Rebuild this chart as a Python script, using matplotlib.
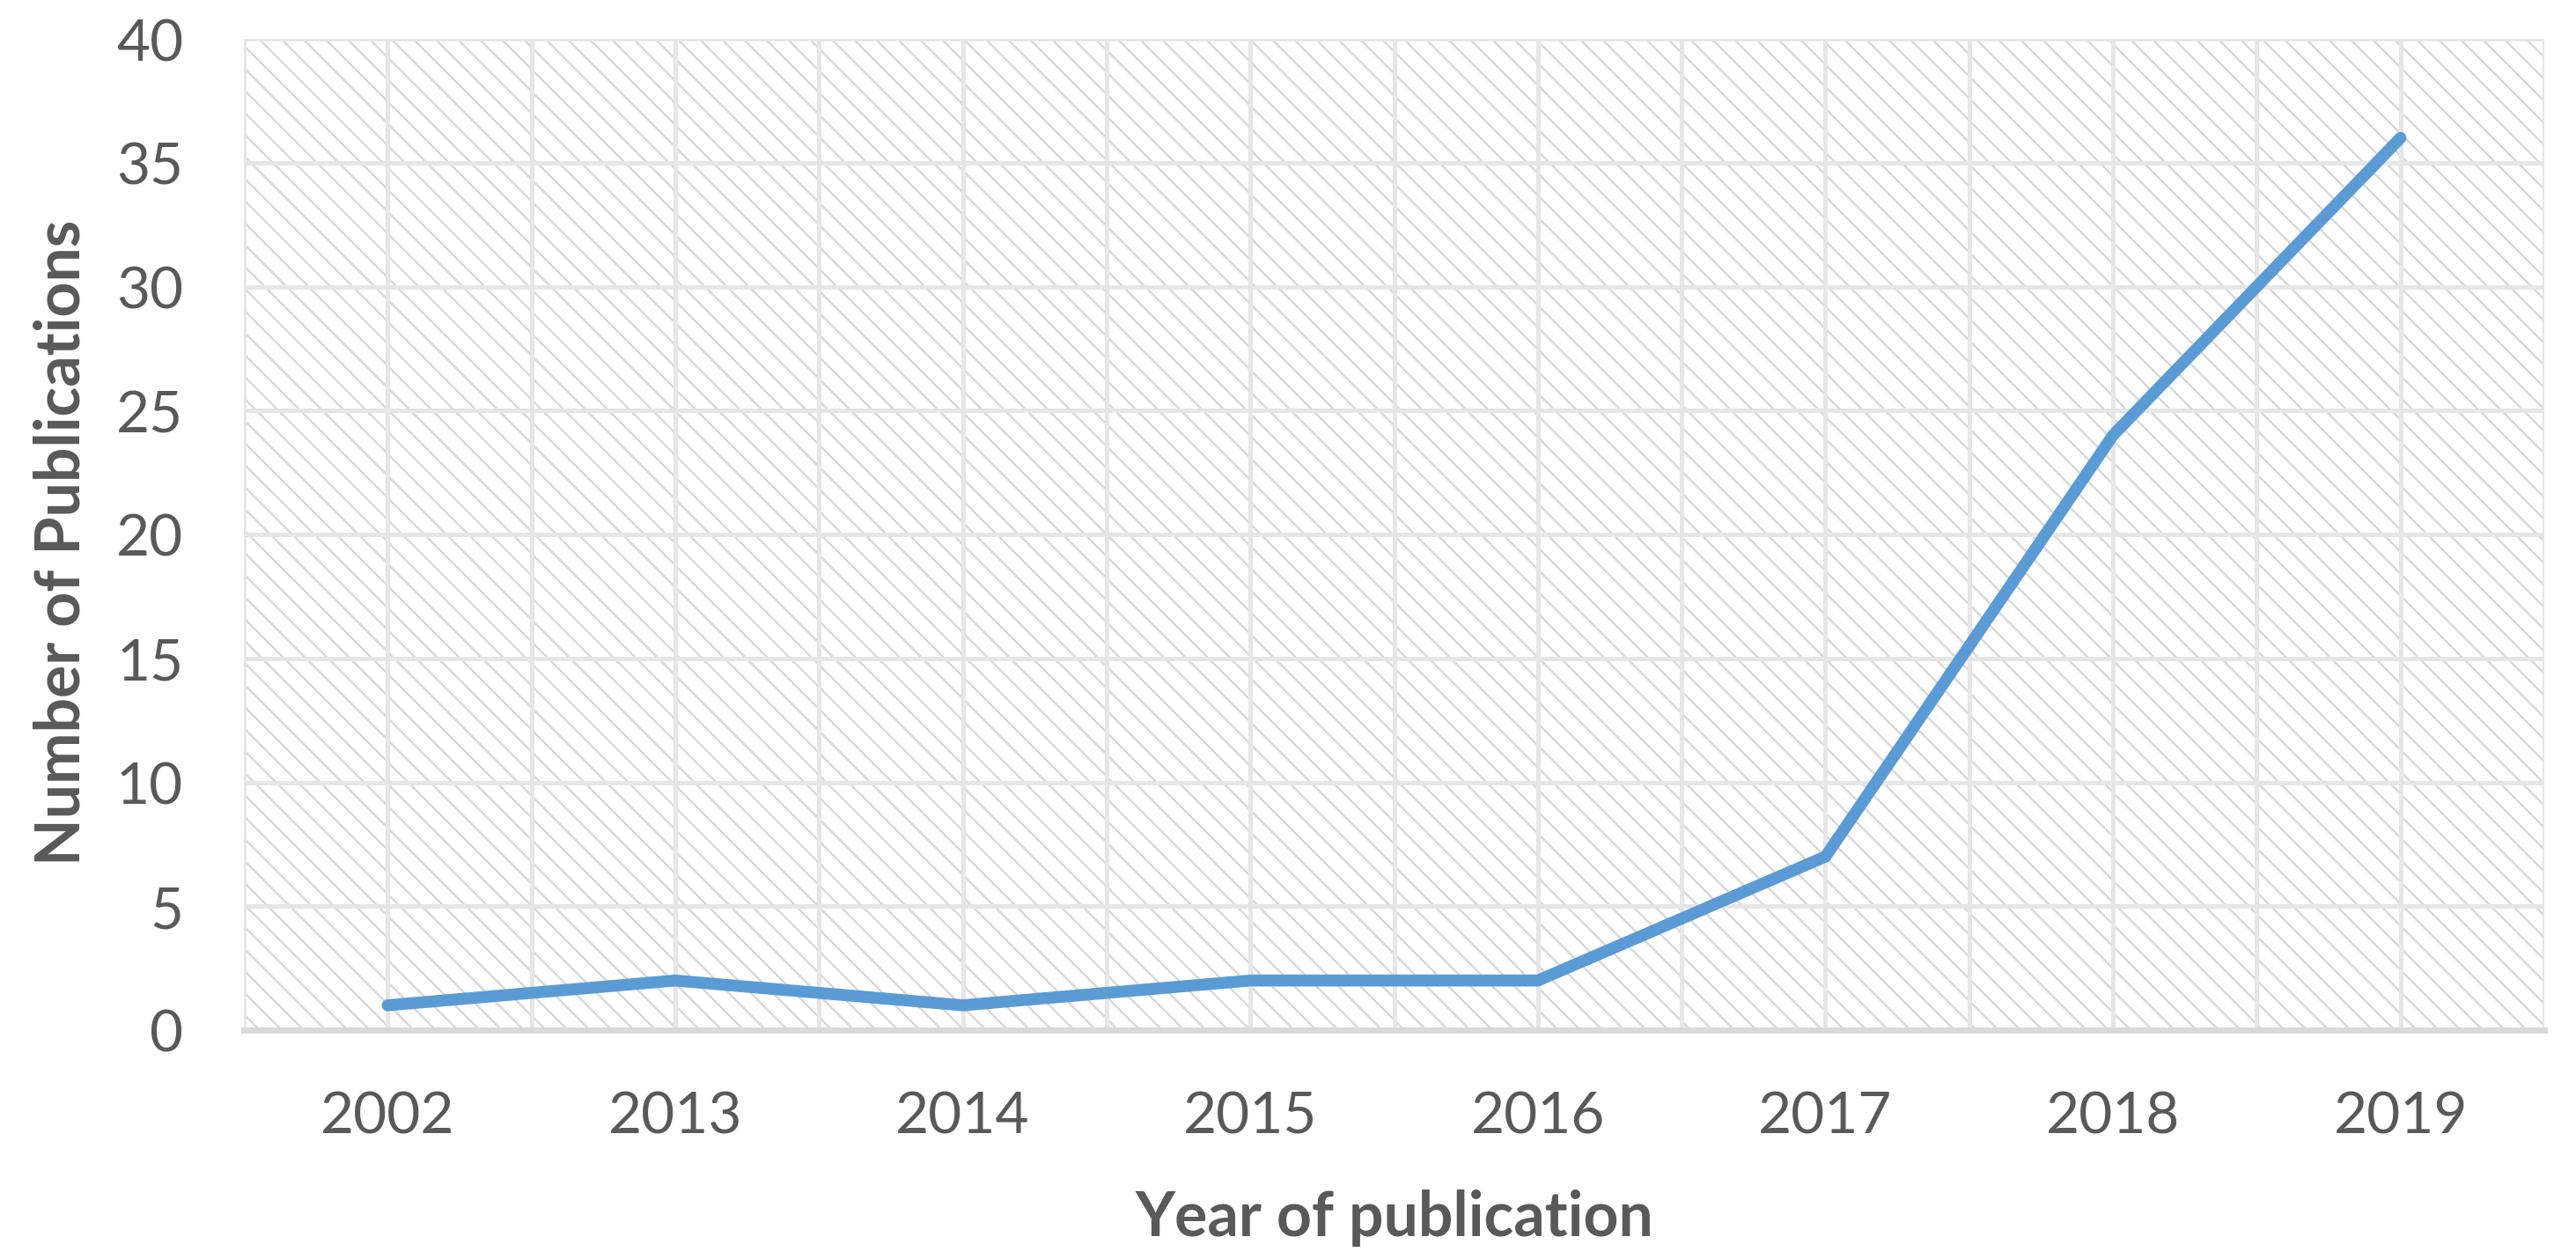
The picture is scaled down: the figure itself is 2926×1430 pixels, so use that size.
import numpy as np
import matplotlib
matplotlib.use('Agg')
import matplotlib.pyplot as plt
from matplotlib.patches import Rectangle

# publications per year
years = ['2002', '2013', '2014', '2015', '2016', '2017', '2018', '2019']
counts = [1, 2, 1, 2, 2, 7, 24, 36]
y_ticks = [0, 5, 10, 15, 20, 25, 30, 35, 40]

plt.rcParams['font.family'] = ['Lato', 'DejaVu Sans']
plt.rcParams['hatch.linewidth'] = 1.2

W, H, DPI = 2926, 1431, 150
fig = plt.figure(figsize=(W / DPI, H / DPI), dpi=DPI)
ax = fig.add_axes([277 / W, 1 - 1171 / H, (2890 - 277) / W, (1171 - 45) / H])

x = np.arange(len(years))

# hatched plot area background
ax.add_patch(Rectangle((0, 0), 1, 1, transform=ax.transAxes, facecolor='white',
                       edgecolor='#d9d9d9', hatch='\\\\', lw=0, zorder=0))

ax.plot(x, counts, color='#5b9bd5', lw=6.5, solid_capstyle='round',
        solid_joinstyle='round', zorder=3)

ax.set_xlim(-0.5, len(years) - 0.5)
ax.set_ylim(0, 40)
ax.set_xticks(x)
ax.set_xticklabels(years)
ax.set_xticks(np.arange(-0.5, len(years), 1), minor=True)
ax.set_yticks(y_ticks)

ax.set_axisbelow(True)
ax.grid(True, which='both', axis='x', color='#e6e6e6', lw=2.4)
ax.grid(True, which='major', axis='y', color='#e6e6e6', lw=2.4)

for s in ['top', 'right', 'left']:
    ax.spines[s].set_visible(False)
ax.spines['bottom'].set_color('#d9d9d9')
ax.spines['bottom'].set_linewidth(3.4)

ax.tick_params(which='both', length=0, labelsize=31.5, labelcolor='#595959', pad=33)

ax.set_xlabel('Year of publication', fontsize=33.5, fontweight='bold', color='#595959')
ax.xaxis.set_label_coords(0.5, -0.16)
ax.set_ylabel('Number of Publications', fontsize=33.5, fontweight='bold', color='#595959')
ax.yaxis.set_label_coords(-0.0666, 0.493)

fig.savefig('out.png', dpi=DPI)
